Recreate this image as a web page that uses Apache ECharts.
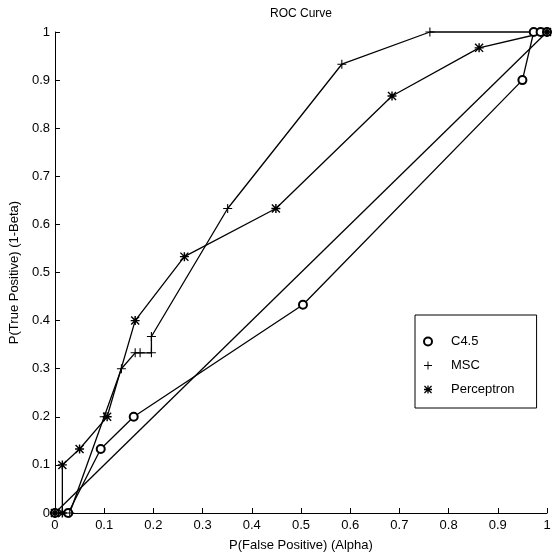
<!DOCTYPE html>
<html>
<head>
<meta charset="utf-8">
<script src="https://cdn.jsdelivr.net/npm/echarts@6/dist/echarts.min.js"></script>
<style>html,body{margin:0;padding:0;background:#fff}#c{width:558px;height:559px}</style>
</head>
<body>
<div id="c"></div>
<script>
const seriesNames = ['C4.5', 'MSC', 'Perceptron'];
const tickValues = [0, 0.1, 0.2, 0.3, 0.4, 0.5, 0.6, 0.7, 0.8, 0.9, 1];
const tickLabels = ['0', '0.1', '0.2', '0.3', '0.4', '0.5', '0.6', '0.7', '0.8', '0.9', '1'];
const c45 = [[0,0],[0.027,0],[0.093,0.133],[0.16,0.2],[0.504,0.433],[0.95,0.9],[0.973,1],[0.987,1],[1,1]];
const msc = [[0,0],[0.03,0],[0.1,0.2],[0.135,0.3],[0.163,0.333],[0.173,0.333],[0.196,0.333],[0.196,0.367],[0.351,0.633],[0.583,0.933],[0.762,1],[1,1]];
const perceptron = [[0,0],[0.015,0],[0.015,0.1],[0.05,0.133],[0.106,0.2],[0.163,0.4],[0.263,0.533],[0.449,0.633],[0.685,0.867],[0.862,0.967],[1,1]];
const chance = [[0,0],[1,1]];

const plusPath = 'path://M4.4,0H5.6V10H4.4Z M0,4.4H10V5.6H0Z';
const starPath = 'path://M4.2,0H5.8V10H4.2Z M0,4.2H10V5.8H0Z M1.1,0L10,8.9L8.9,10L0,1.1Z M8.9,0L10,1.1L1.1,10L0,8.9Z';

function fmt(v) {
  const i = tickValues.findIndex(t => Math.abs(t - v) < 1e-6);
  return i >= 0 ? tickLabels[i] : '';
}
const font = 'Liberation Sans, Arial, Helvetica, sans-serif';
const axisCommon = {
  type: 'value', min: 0, max: 1, interval: 0.1,
  splitLine: { show: false },
  axisLine: { show: true, lineStyle: { color: '#000', width: 1 } },
  axisTick: { show: true, inside: true, length: 5, lineStyle: { color: '#000' } },
  axisLabel: { color: '#000', fontSize: 13, fontFamily: font, formatter: fmt },
  nameLocation: 'middle',
  nameTextStyle: { color: '#000', fontSize: 13, fontFamily: font }
};
const lineStyle = { color: '#000', width: 1.3 };
const chart = echarts.init(document.getElementById('c'));
chart.setOption({
  animation: false,
  backgroundColor: '#fff',
  title: {
    text: 'ROC Curve', left: 265, top: 3,
    textStyle: { color: '#000', fontSize: 12, fontWeight: 'normal', fontFamily: font }
  },
  grid: { left: 45, right: 11, top: 32, bottom: 46, containLabel: false },
  xAxis: Object.assign({}, axisCommon, {
    name: 'P(False Positive) (Alpha)', nameGap: 26,
    axisLabel: Object.assign({}, axisCommon.axisLabel, { margin: 6 })
  }),
  yAxis: Object.assign({}, axisCommon, {
    name: 'P(True Positive) (1-Beta)', nameGap: 26,
    axisLabel: Object.assign({}, axisCommon.axisLabel, { margin: 5 })
  }),
  legend: {
    orient: 'vertical', left: 415, top: 315,
    data: [
      { name: seriesNames[0], icon: 'emptyCircle' },
      { name: seriesNames[1], icon: plusPath },
      { name: seriesNames[2], icon: starPath }
    ],
    itemWidth: 8, itemHeight: 8, itemGap: 11,
    padding: [20, 22, 12, 8],
    borderColor: '#000', borderWidth: 1, borderRadius: 0,
    textStyle: { color: '#000', fontSize: 13, fontFamily: font, padding: [0, 0, 0, 14] }
  },
  series: [
    { name: seriesNames[0], type: 'line', data: c45, symbol: 'emptyCircle', symbolSize: 8,
      lineStyle: lineStyle, itemStyle: { color: '#000', borderColor: '#000', borderWidth: 0.9 }, clip: false },
    { name: seriesNames[1], type: 'line', data: msc, symbol: plusPath, symbolSize: 9,
      lineStyle: lineStyle, itemStyle: { color: '#000', borderWidth: 0 }, clip: false },
    { name: seriesNames[2], type: 'line', data: perceptron, symbol: starPath, symbolSize: 9,
      lineStyle: lineStyle, itemStyle: { color: '#000', borderWidth: 0 }, clip: false },
    { name: 'chance', type: 'line', data: chance, symbol: 'none',
      lineStyle: lineStyle, clip: false }
  ]
});
</script>
</body>
</html>
